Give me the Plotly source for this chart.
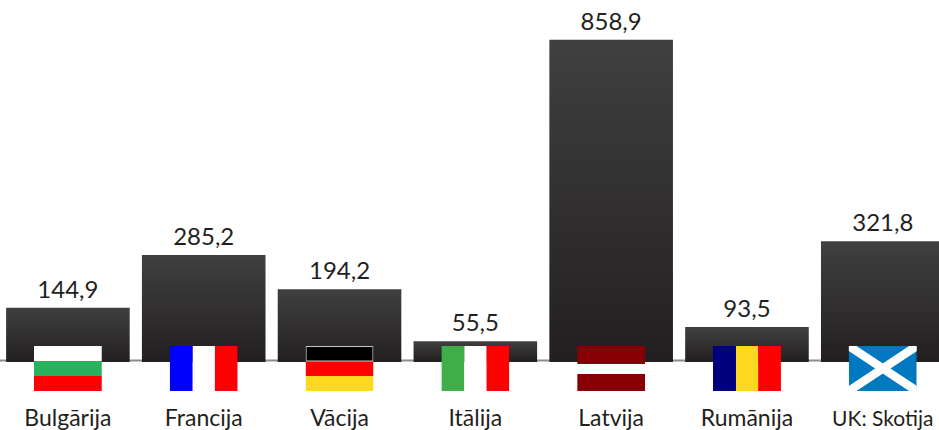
from urllib.parse import quote

import plotly.graph_objects as go

# Dati
valstis = ["Bulgārija", "Francija", "Vācija", "Itālija", "Latvija", "Rumānija", "UK: Skotija"]
vertibas = [144.9, 285.2, 194.2, 55.5, 858.9, 93.5, 321.8]
uzraksti = valstis[:-1] + ['<span style="font-size:21px">UK: Skotija</span>']

TEXT = "#231f20"
FONT = "Lato"


def svg_flag(body):
    svg = f'<svg xmlns="http://www.w3.org/2000/svg" viewBox="0 0 68 45" preserveAspectRatio="none">{body}</svg>'
    return "data:image/svg+xml," + quote(svg)


def vert(a, b, c):
    return (f'<rect x="0" width="23" height="45" fill="{a}"/><rect x="23" width="22.5" height="45" fill="{b}"/>'
            f'<rect x="45.2" width="22.8" height="45" fill="{c}"/>')


def horiz(a, b, c):
    return (f'<rect y="0" width="68" height="15" fill="{a}"/><rect y="15" width="68" height="15" fill="{b}"/>'
            f'<rect y="30" width="68" height="15" fill="{c}"/>')


karogi = [
    horiz("#ffffff", "#27b35d", "#ff0000"),
    vert("#0000ff", "#ffffff", "#ff0000"),
    horiz("#000000", "#ff0000", "#fcd91f")
    + '<rect x="0.5" y="0.5" width="67" height="14.5" fill="none" stroke="#c8c8c8" stroke-width="1"/>',
    vert("#3fae49", "#ffffff", "#ff0000"),
    '<rect width="68" height="18" fill="#870005"/><rect y="28" width="68" height="17" fill="#870005"/>',
    vert("#00007f", "#fcd91f", "#ff0000"),
    '<rect width="68" height="45" fill="#0079c1"/>'
    '<path d="M0 0L68 45M68 0L0 45" stroke="#ffffff" stroke-width="8.5"/>',
]

fig = go.Figure(go.Bar(
    x=valstis,
    y=vertibas,
    marker=dict(color="#2f2d2e", line=dict(width=0)),
    texttemplate="%{y:.1f}",
    textposition="outside",
    textfont=dict(family=FONT, size=24, color=TEXT),
    cliponaxis=False,
))

PLOT_H = 362.4
flag_top = (PLOT_H - 346.4) / PLOT_H
flag_h = 45 / PLOT_H

images = []
for i, body in enumerate(karogi):
    images.append(dict(
        source=svg_flag(body), xref="x", yref="paper", x=i, y=flag_top,
        sizex=0.5, sizey=flag_h, xanchor="center", yanchor="top",
        sizing="stretch", layer="above",
    ))

fig.update_layout(
    width=939,
    height=430,
    margin=dict(l=0, r=0, t=0, b=430 - PLOT_H),
    paper_bgcolor="white",
    plot_bgcolor="white",
    showlegend=False,
    separators=", ",
    bargap=0.09,
    images=images,
    xaxis=dict(
        range=[-0.5, 6.414],
        showgrid=False,
        zeroline=False,
        showline=False,
        ticks="",
        tickmode="array",
        tickvals=valstis,
        ticktext=uzraksti,
        tickfont=dict(family=FONT, size=23, color=TEXT),
        ticklabelstandoff=40,
    ),
    yaxis=dict(range=[0, 965.1], visible=False),
    shapes=[dict(
        type="line", xref="paper", yref="paper", x0=0, x1=1, y0=1.5 / PLOT_H, y1=1.5 / PLOT_H,
        line=dict(color="#8c8c8c", width=2), layer="below",
    )],
)

# Pakāpeniska krāsa katram stabiņam, vērtības nedaudz augstāk
post = """
document.body.style.margin = '0';
var gd = document.getElementById('{plot_id}');
var svg = gd.querySelector('.main-svg');
var ns = 'http://www.w3.org/2000/svg';
var defs = document.createElementNS(ns, 'defs');
var grad = document.createElementNS(ns, 'linearGradient');
grad.setAttribute('id', 'stabins');
grad.setAttribute('x1', '0'); grad.setAttribute('y1', '0');
grad.setAttribute('x2', '0'); grad.setAttribute('y2', '1');
[['0', '#404040'], ['1', '#231f20']].forEach(function (s) {
    var stop = document.createElementNS(ns, 'stop');
    stop.setAttribute('offset', s[0]);
    stop.setAttribute('stop-color', s[1]);
    grad.appendChild(stop);
});
defs.appendChild(grad);
svg.appendChild(defs);
gd.querySelectorAll('.bars .point path').forEach(function (p) {
    p.style.fill = 'url(#stabins)';
});
gd.querySelectorAll('.bars .bartext').forEach(function (t) {
    t.setAttribute('transform', 'translate(0,-2) ' + (t.getAttribute('transform') || ''));
});
"""

fig.write_html("out.html", config={"displayModeBar": False}, post_script=post)
